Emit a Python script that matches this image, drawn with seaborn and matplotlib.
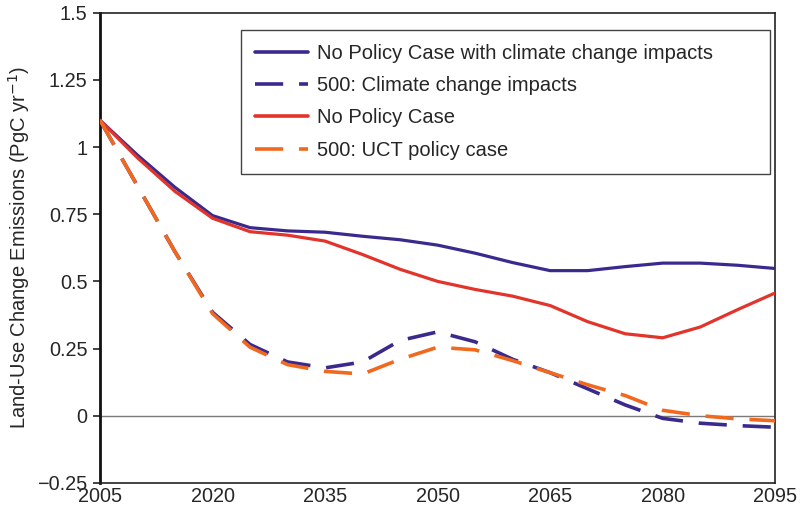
import numpy as np
import pandas as pd
import matplotlib
matplotlib.use("Agg")
import matplotlib.pyplot as plt
import seaborn as sns

years = [2005, 2010, 2015, 2020, 2025, 2030, 2035, 2040, 2045, 2050,
         2055, 2060, 2065, 2070, 2075, 2080, 2085, 2090, 2095]

no_policy_cc = [1.10, 0.97, 0.85, 0.745, 0.70, 0.688, 0.683, 0.668, 0.655, 0.635,
                0.605, 0.57, 0.54, 0.54, 0.555, 0.568, 0.568, 0.56, 0.548]
cap500_cc = [1.10, 0.855, 0.61, 0.385, 0.265, 0.20, 0.178, 0.20, 0.28, 0.312,
             0.275, 0.21, 0.16, 0.10, 0.04, -0.01, -0.028, -0.037, -0.043]
no_policy = [1.10, 0.96, 0.835, 0.735, 0.685, 0.672, 0.65, 0.60, 0.545, 0.50,
             0.47, 0.445, 0.41, 0.35, 0.305, 0.29, 0.33, 0.395, 0.457]
cap500_uct = [1.10, 0.855, 0.61, 0.38, 0.255, 0.19, 0.165, 0.155, 0.21, 0.255,
              0.245, 0.205, 0.16, 0.115, 0.075, 0.02, 0.0, -0.012, -0.019]

series_names = ["No Policy Case with climate change impacts",
                "500: Climate change impacts",
                "No Policy Case",
                "500: UCT policy case"]
series_values = [no_policy_cc, cap500_cc, no_policy, cap500_uct]
series_colors = ["#3b2a8e", "#3b2a8e", "#e2342a", "#f0691f"]

x_ticks = [2005, 2020, 2035, 2050, 2065, 2080, 2095]
y_ticks = [-0.25, 0, 0.25, 0.5, 0.75, 1, 1.25, 1.5]
y_tick_labels = ["\u22120.25", "0", "0.25", "0.5", "0.75", "1", "1.25", "1.5"]

df = pd.concat(
    [pd.DataFrame({"year": years, "emissions": v, "case": n})
     for n, v in zip(series_names, series_values)],
    ignore_index=True)

sns.set_style("white")
plt.rcParams["font.family"] = ["Liberation Sans", "DejaVu Sans"]

fig = plt.figure(figsize=(8, 5.12), dpi=100)
ax = fig.add_axes([0.125, 0.057, 0.844, 0.918])

ax.axhline(0, color="#7a7a7a", lw=1.0, zorder=1)

dash_pattern = (7.8, 4.4)
sns.lineplot(data=df, x="year", y="emissions", hue="case", style="case",
             hue_order=series_names, style_order=series_names,
             palette=dict(zip(series_names, series_colors)),
             dashes={series_names[0]: "",
                     series_names[1]: dash_pattern,
                     series_names[2]: "",
                     series_names[3]: dash_pattern},
             linewidth=2.3, ax=ax, zorder=3)

# dashed lines are a touch heavier than the solid ones
for line, name in zip(ax.get_lines()[1:], series_names):
    if name in (series_names[1], series_names[3]):
        line.set_linewidth(2.6)

ax.set_xlim(2005, 2095)
ax.set_ylim(-0.25, 1.5)
ax.set_xticks(x_ticks)
ax.set_yticks(y_ticks)
ax.set_yticklabels(y_tick_labels)
ax.tick_params(axis="x", length=0, labelsize=14.3, pad=3)
ax.tick_params(axis="y", length=5, width=1.2, direction="out", left=True,
               labelsize=14.3, pad=4, color="#222222")
ax.set_xlabel("")
ax.set_ylabel("Land-Use Change Emissions (PgC yr$^{-1}$)", fontsize=14.5, labelpad=4)

for side in ["top", "right", "bottom"]:
    ax.spines[side].set_color("#222222")
    ax.spines[side].set_linewidth(1.2)
ax.spines["left"].set_color("#111111")
ax.spines["left"].set_linewidth(2.0)

# legend box spans a fixed width, leaving room to the right of the labels
handles, labels = ax.get_legend_handles_labels()
leg = ax.legend(handles, labels, loc="upper left", mode="expand",
                bbox_to_anchor=(0.209, 0.5, 0.784, 0.464),
                fontsize=14.5, frameon=True, fancybox=False, edgecolor="#444444",
                framealpha=1, handlelength=2.64, handletextpad=0.45,
                borderpad=0.7, labelspacing=0.66, borderaxespad=0)
leg.get_frame().set_linewidth(1.0)
for lh in leg.get_lines():
    lh.set_linewidth(2.6)

fig.savefig("out.png", dpi=100)
